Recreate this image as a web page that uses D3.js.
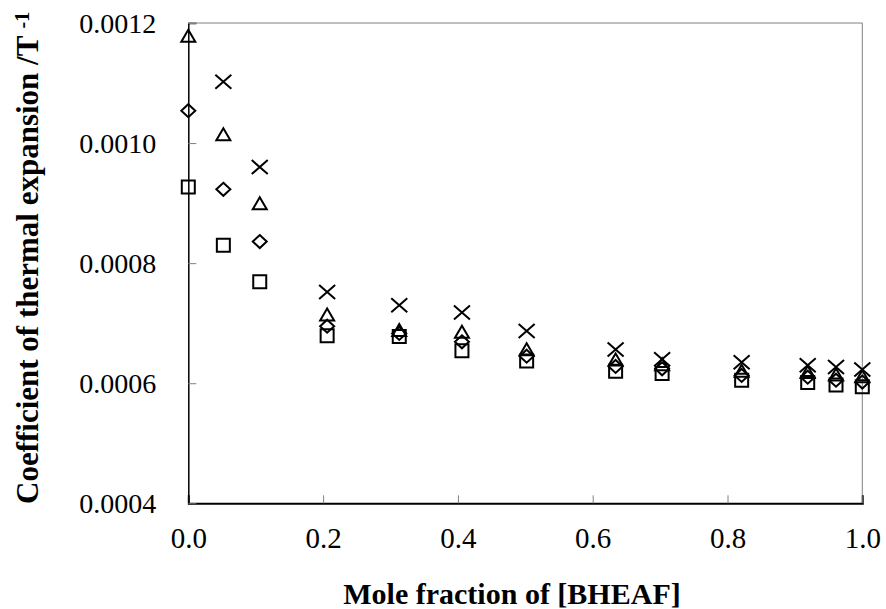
<!DOCTYPE html>
<html>
<head>
<meta charset="utf-8">
<script src="https://cdn.jsdelivr.net/npm/d3@7"></script>
<style>
  html, body { margin: 0; padding: 0; background: #fff; }
  svg { display: block; }
  text { font-family: "Liberation Serif", "Times New Roman", serif; fill: #000; }
</style>
</head>
<body>
<svg id="chart" width="886" height="609"></svg>
<script>
// Mole fraction of [BHEAF] for each measured mixture
const moleFraction = [0.000, 0.052, 0.106, 0.206, 0.313, 0.406, 0.502, 0.634, 0.703, 0.821, 0.919, 0.961, 1.000];

// Coefficient of thermal expansion (1/T), one array per marker series
const alphaCross    = [null,     0.001102, 0.000960, 0.000752, 0.000730, 0.000718, 0.000687, 0.000656, 0.000640, 0.000635, 0.000630, 0.000627, 0.000623];
const alphaTriangle = [0.001177, 0.001013, 0.000898, 0.000713, 0.000687, 0.000684, 0.000655, 0.000638, 0.000630, 0.000619, 0.000617, 0.000613, 0.000610];
const alphaDiamond  = [0.001054, 0.000923, 0.000836, 0.000695, 0.000683, 0.000669, 0.000645, 0.000628, 0.000624, 0.000613, 0.000610, 0.000605, 0.000602];
const alphaSquare   = [0.000927, 0.000830, 0.000769, 0.000679, 0.000678, 0.000654, 0.000637, 0.000620, 0.000616, 0.000605, 0.000601, 0.000597, 0.000594];

const xTicks = [0, 0.2, 0.4, 0.6, 0.8, 1.0];
const yTicks = [0.0004, 0.0006, 0.0008, 0.0010, 0.0012];

const xLabel = "Mole fraction of [BHEAF]";
const yLabel = "Coefficient of thermal expansion /T";
const yLabelSup = "-1";

const svg = d3.select("#chart");
const plotLeft = 188.3, plotRight = 862.3, plotTop = 23, plotBottom = 503.3;

const x = d3.scaleLinear().domain([0, 1]).range([plotLeft, plotRight]);
const y = d3.scaleLinear().domain([0.0004, 0.0012]).range([plotBottom, plotTop]);

// Plot frame: grey top/right edges, black axes
svg.append("line").attr("x1", plotLeft).attr("x2", plotRight).attr("y1", plotTop).attr("y2", plotTop)
  .attr("stroke", "#808080").attr("stroke-width", 1);
svg.append("line").attr("x1", plotRight).attr("x2", plotRight).attr("y1", plotTop).attr("y2", plotBottom)
  .attr("stroke", "#808080").attr("stroke-width", 1);

// Axes with inward ticks
const xAxis = d3.axisBottom(x).tickValues(xTicks).tickSize(-8).tickPadding(22)
  .tickFormat(d3.format(".1f"));
const yAxis = d3.axisLeft(y).tickValues(yTicks).tickSize(-8).tickPadding(32)
  .tickFormat(d3.format(".4f"));

const gx = svg.append("g").attr("transform", `translate(0,${plotBottom})`).call(xAxis);
const gy = svg.append("g").attr("transform", `translate(${plotLeft},0)`).call(yAxis);

[gx, gy].forEach(g => {
  g.select(".domain").attr("stroke", "#000");
  g.selectAll(".tick line").attr("stroke", "#808080").attr("stroke-width", 1);
  g.selectAll(".tick text")
    .style("font-family", '"Liberation Serif", "Times New Roman", serif')
    .attr("fill", "#000");
});
gx.select(".domain").attr("stroke-width", 2);
gy.select(".domain").attr("stroke-width", 1.5);
gx.selectAll(".tick text").style("font-size", "29px").attr("y", 24).attr("dy", "0.71em");
gy.selectAll(".tick text").style("font-size", "28px").attr("x", -32).attr("dy", "0.34em");

// Axis titles
svg.append("text")
  .attr("x", 512).attr("y", 604)
  .attr("text-anchor", "middle")
  .style("font-size", "30px").style("font-weight", "bold")
  .text(xLabel);

const yt = svg.append("text")
  .attr("transform", "translate(38,504) rotate(-90)")
  .attr("text-anchor", "start")
  .style("font-size", "31px").style("font-weight", "bold");
yt.append("tspan").text(yLabel + " ");
yt.append("tspan").attr("dy", "-0.45em").style("font-size", "20px").text(yLabelSup);

// Marker shapes (hollow, black outline)
const markers = {
  square:   () => "M-6.5,-6.5h13v13h-13z",
  diamond:  () => "M0,-6.5L7,0L0,6.5L-7,0Z",
  triangle: () => "M0,-7L7,5L-7,5Z",
  cross:    () => "M-8,-7L8,7M-8,7L8,-7"
};

const series = [
  { values: alphaSquare,   shape: "square" },
  { values: alphaDiamond,  shape: "diamond" },
  { values: alphaTriangle, shape: "triangle" },
  { values: alphaCross,    shape: "cross" }
];

series.forEach(s => {
  const pts = moleFraction.map((m, i) => ({ m, v: s.values[i] })).filter(d => d.v != null);
  svg.append("g").selectAll("path").data(pts).join("path")
    .attr("transform", d => `translate(${x(d.m)},${y(d.v)})`)
    .attr("d", markers[s.shape])
    .attr("fill", "none")
    .attr("stroke", "#000")
    .attr("stroke-width", 2);
});
</script>
</body>
</html>
